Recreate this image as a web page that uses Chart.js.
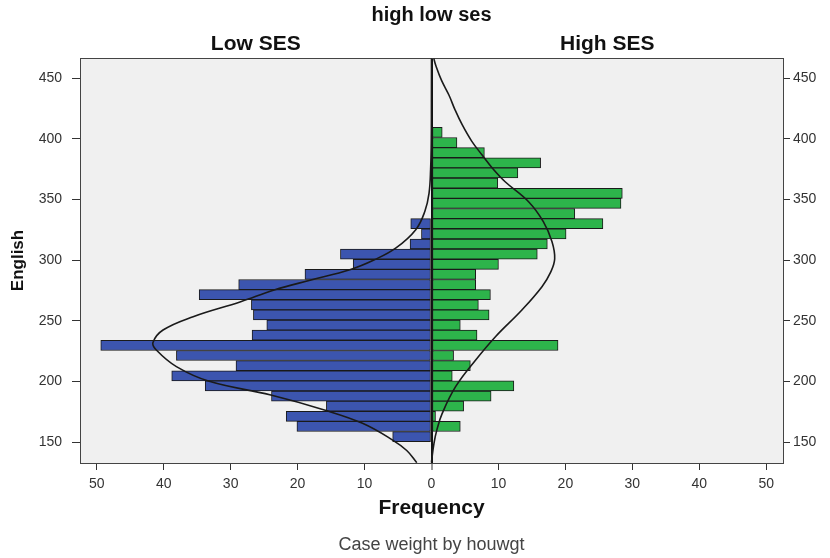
<!DOCTYPE html>
<html><head><meta charset="utf-8">
<script src="https://cdn.jsdelivr.net/npm/chart.js@4/dist/chart.umd.min.js"></script>
<style>html,body{margin:0;padding:0;background:#fff}canvas{display:block}</style>
</head><body>
<canvas id="c" width="830" height="558"></canvas>
<script>
const chartTitle = 'high low ses';
const panelLabels = ['Low SES', 'High SES'];
const xAxisTitle = 'Frequency';
const yAxisTitle = 'English';
const footnote = 'Case weight by houwgt';

// histogram bin centres (English score), top to bottom
const englishBins = [405.2, 396.8, 388.5, 380.1, 371.8, 363.4, 355.0, 346.7, 338.3, 330.0, 321.6, 313.2, 304.9, 296.5, 288.2, 279.8, 271.4, 263.1, 254.7, 246.4, 238.0, 229.6, 221.3, 212.9, 204.6, 196.2, 187.8, 179.5, 171.1, 162.8, 154.4];
const lowSESFreq  = [0, 0, 0, 0, 0, 0, 0, 0, 0, 3.1, 1.5, 3.2, 13.6, 11.7, 18.9, 28.8, 34.7, 26.9, 26.6, 24.6, 26.8, 49.4, 38.1, 29.2, 38.8, 33.8, 23.9, 15.7, 21.7, 20.1, 5.8];
const highSESFreq = [1.6, 3.8, 7.9, 16.3, 12.9, 9.9, 28.5, 28.3, 21.4, 25.6, 20.1, 17.3, 15.8, 10.0, 6.6, 6.6, 8.8, 7.0, 8.6, 4.3, 6.8, 18.9, 3.3, 5.8, 3.1, 12.3, 8.9, 4.8, 0.6, 4.3, 0];

// normal curves (English score -> frequency)
const lowCurveScore  = [466, 430, 400, 375, 355, 340, 325, 310, 300, 292, 283.5, 275.3, 265.6, 253.3, 242.3, 232, 225.8, 212.1, 200, 188.7, 176.4, 165.4, 151.6, 143, 133];
const lowCurveFreq   = [0, 0.01, 0.03, 0.13, 0.37, 1.0, 2.35, 5.3, 8.6, 12.2, 18.0, 23.5, 28.5, 35.6, 40.1, 41.6, 41.1, 38.1, 33.2, 24.0, 16.0, 10.3, 5.8, 3.7, 2.2];
const highCurveScore = [466, 460.7, 448, 436, 424, 411.3, 398, 386.5, 375, 364.5, 348, 331.6, 315.1, 301, 290, 278, 258.8, 236.8, 217.6, 195.6, 173.6, 160, 148.9, 135, 133];
const highCurveFreq  = [0.35, 0.62, 1.5, 2.6, 3.5, 4.6, 6.0, 7.56, 9.2, 11.0, 14.5, 16.7, 18.0, 18.4, 17.8, 16.5, 13.5, 9.55, 6.6, 3.6, 1.6, 0.8, 0.37, 0.03, 0.0];

const xTickValues = [-50, -40, -30, -20, -10, 0, 10, 20, 30, 40, 50];
const yTickValues = [150, 200, 250, 300, 350, 400, 450];

const FONT = "'Liberation Sans', Arial, sans-serif";
Chart.defaults.font.family = FONT;

const barPts = (vals, sign) => englishBins.map((b, i) => ({y: b, x: sign * vals[i]})).filter(p => p.x !== 0);
const curvePts = (scores, freqs, sign) => scores.map((s, i) => ({x: sign * freqs[i], y: s}));

const plotBg = {
  id: 'plotBg',
  beforeDraw(chart) {
    const {ctx, chartArea: a} = chart;
    ctx.save();
    ctx.fillStyle = '#f0f0f0';
    ctx.fillRect(a.left, a.top, a.right - a.left, a.bottom - a.top);
    ctx.restore();
  }
};

const tickFont = {size: 14};
const tickColor = '#333';
const yMin = 132.7, yMax = 466.5;

new Chart(document.getElementById('c'), {
  type: 'bar',
  data: {
    datasets: [
      {type: 'line', label: 'Low SES normal', data: curvePts(lowCurveScore, lowCurveFreq, -1), borderColor: '#1a1a1a', borderWidth: 1.6, pointRadius: 0, tension: 0.4, fill: false, order: 0, xAxisID: 'x', yAxisID: 'y'},
      {type: 'line', label: 'High SES normal', data: curvePts(highCurveScore, highCurveFreq, 1), borderColor: '#1a1a1a', borderWidth: 1.6, pointRadius: 0, tension: 0.4, fill: false, order: 0, xAxisID: 'x', yAxisID: 'y'},
      {type: 'bar', label: panelLabels[0], indexAxis: 'y', data: barPts(lowSESFreq, -1), backgroundColor: '#3c55af', borderColor: '#1a1a1a', borderWidth: 1, borderSkipped: false, barPercentage: 1, categoryPercentage: 1, grouped: false, order: 1, xAxisID: 'x', yAxisID: 'y'},
      {type: 'bar', label: panelLabels[1], indexAxis: 'y', data: barPts(highSESFreq, 1), backgroundColor: '#2db44b', borderColor: '#1a1a1a', borderWidth: 1, borderSkipped: false, barPercentage: 1, categoryPercentage: 1, grouped: false, order: 1, xAxisID: 'x', yAxisID: 'y'}
    ]
  },
  options: {
    responsive: false,
    animation: false,
    devicePixelRatio: 1,
    layout: {padding: 0},
    plugins: {
      legend: {display: false},
      tooltip: {enabled: false},
      title: {display: true, fullSize: false, text: chartTitle, color: '#111', font: {size: 20, weight: 'bold'}, padding: {top: 3, bottom: 5.6}},
      subtitle: {display: true, fullSize: false, position: 'bottom', text: footnote, color: '#444', font: {size: 18}, padding: {top: 0, bottom: 2.4}}
    },
    scales: {
      x: {
        type: 'linear', position: 'bottom', min: -52.5, max: 52.5, z: 1, offset: false,
        afterBuildTicks: s => { s.ticks = xTickValues.map(v => ({value: v})); },
        afterFit: s => { s.height = 71.0; },
        ticks: {font: tickFont, color: tickColor, padding: 5.3, callback: v => Math.abs(v)},
        grid: {
          offset: false, drawOnChartArea: true, drawTicks: true, tickLength: 7, tickColor: '#333', tickWidth: 1,
          color: c => (c.tick && c.tick.value === 0) ? '#111' : 'rgba(0,0,0,0)',
          lineWidth: c => (c.tick && c.tick.value === 0) ? 2 : 1
        },
        border: {display: true, color: '#444', width: 1},
        title: {display: true, text: xAxisTitle, color: '#111', font: {size: 21, weight: 'bold'}, padding: {top: 0, bottom: 13.4}}
      },
      x2: {
        type: 'category', position: 'top', labels: panelLabels, offset: true,
        afterFit: s => { s.height = 25.4; },
        ticks: {font: {size: 21, weight: 'bold'}, color: '#111', padding: 1.4},
        grid: {display: false, drawTicks: false},
        border: {display: true, color: '#444', width: 1}
      },
      y: {
        type: 'linear', position: 'left', min: yMin, max: yMax, offset: false,
        afterBuildTicks: s => { s.ticks = yTickValues.map(v => ({value: v})); },
        afterFit: s => { s.width = 80; },
        ticks: {font: tickFont, color: tickColor, padding: 10},
        grid: {offset: false, drawOnChartArea: false, drawTicks: true, tickLength: 8, tickColor: '#333'},
        border: {display: true, color: '#444', width: 1},
        title: {display: true, text: yAxisTitle, color: '#111', font: {size: 17, weight: 'bold'}, padding: {top: 8, bottom: 0}}
      },
      y2: {
        type: 'linear', position: 'right', min: yMin, max: yMax, offset: false,
        afterBuildTicks: s => { s.ticks = yTickValues.map(v => ({value: v})); },
        afterFit: s => { s.width = 47; },
        ticks: {font: tickFont, color: tickColor, padding: 3},
        grid: {offset: false, drawOnChartArea: false, drawTicks: true, tickLength: 7, tickColor: '#333'},
        border: {display: true, color: '#444', width: 1}
      }
    }
  },
  plugins: [plotBg]
});
</script>
</body></html>
